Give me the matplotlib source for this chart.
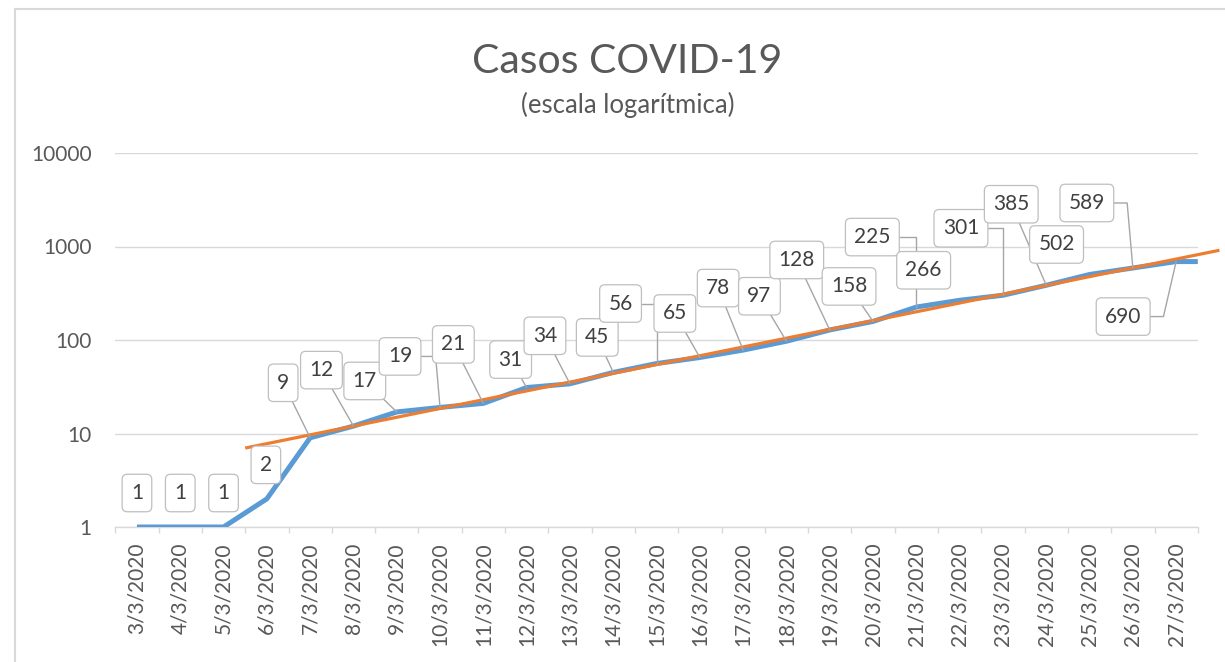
import numpy as np
import matplotlib
matplotlib.use("Agg")
import matplotlib.pyplot as plt
from matplotlib.lines import Line2D

plt.rcParams['font.family'] = ['Lato', 'DejaVu Sans']

# ---------------- data ----------------
dates = ['3/3/2020', '4/3/2020', '5/3/2020', '6/3/2020', '7/3/2020', '8/3/2020',
         '9/3/2020', '10/3/2020', '11/3/2020', '12/3/2020', '13/3/2020', '14/3/2020',
         '15/3/2020', '16/3/2020', '17/3/2020', '18/3/2020', '19/3/2020', '20/3/2020',
         '21/3/2020', '22/3/2020', '23/3/2020', '24/3/2020', '25/3/2020', '26/3/2020',
         '27/3/2020']
cases = [1, 1, 1, 2, 9, 12, 17, 19, 21, 31, 34, 45, 56, 65, 78, 97, 128, 158,
         225, 266, 301, 385, 502, 589, 690]
y_ticks = [1, 10, 100, 1000, 10000]
y_tick_labels = ['1', '10', '100', '1000', '10000']

# label box offsets (pixels from the data point) and leader style
label_dx = [0, 0, 0, -1, -27, -32, -32, -40, -30, -16, -25, -16, -36, -25, -25,
            -27, -33, -24, -44, -36, -42, -35, -33, -46, -53]
label_dy = [34, 34, 34, 34, 55, 56, 31, 51, 59, 28, 48, 35, 60, 44, 62,
            45, 70, 35, 70, 30, 67, 81, 30, 65, -55]
# None = no leader, 's' = straight, number = elbow with that end angle
leader = [None, None, None, None, 's', 's', 's', 95, 's', 's', 's', 's', 90, 's', 's',
          's', 's', 's', 90, None, 90, 's', None, 95, 77]

# ---------------- figure ----------------
W, H = 1225, 662
fig = plt.figure(figsize=(W / 100, H / 100), dpi=100)
ax = fig.add_axes([115.3 / W, 1 - 527 / H, (1197.8 - 115.3) / W, (527 - 153) / H])

x = np.arange(len(cases))
xmax = len(cases) - 0.5
# the series line runs on flat to the edge of the plot area
ax.plot(np.append(x, xmax), np.append(cases, cases[-1]), color='#5B9BD5', lw=3.6,
        solid_joinstyle='round', solid_capstyle='butt', zorder=3)

# exponential trendline (least squares on log values, from 7/3 on)
coef = np.polyfit(x[4:], np.log10(cases[4:]), 1)
xt = np.array([2.5, 25.0])
ax.plot(xt, 10 ** np.polyval(coef, xt), color='#ED7D31', lw=2.3,
        solid_capstyle='butt', clip_on=False, zorder=4)

ax.set_yscale('log')
ax.set_ylim(1, 10000)
ax.set_xlim(-0.5, xmax)
ax.set_yticks(y_ticks)
ax.set_yticklabels(y_tick_labels)
ax.yaxis.set_minor_locator(matplotlib.ticker.NullLocator())
ax.set_xticks(x)
ax.set_xticklabels(dates, rotation=90, va='top', ha='center')
ax.set_xticks(np.arange(-0.5, len(cases), 1), minor=True)

ax.grid(axis='y', which='major', color='#d9d9d9', lw=1.0)
ax.set_axisbelow(True)
for s in ['top', 'right', 'left']:
    ax.spines[s].set_visible(False)
ax.spines['bottom'].set_color('#d9d9d9')
ax.spines['bottom'].set_linewidth(1.0)

ax.tick_params(axis='y', length=0, pad=17, labelsize=15, labelcolor='#595959')
ax.tick_params(axis='x', which='major', length=0, pad=11, labelsize=15,
               labelcolor='#595959')
ax.tick_params(axis='x', which='minor', length=4.5, width=1.0, color='#d9d9d9')

# data labels
for i, v in enumerate(cases):
    kw = {}
    if leader[i] is not None:
        if leader[i] == 's':
            cs = 'arc3,rad=0'
        else:
            cs = 'angle,angleA=0,angleB=%s,rad=0' % leader[i]
        kw['arrowprops'] = dict(arrowstyle='-', color='#a6a6a6', lw=1.0,
                                shrinkA=0, shrinkB=0, connectionstyle=cs)
    ax.annotate(str(v), xy=(i, v), xytext=(label_dx[i], label_dy[i]),
                textcoords='offset pixels', ha='center', va='center',
                fontsize=15, color='#404040', zorder=6, annotation_clip=False,
                bbox=dict(boxstyle='round,pad=0.42,rounding_size=0.25',
                          fc='white', ec='#bfbfbf', lw=0.9),
                **kw)

# titles
fig.text(627.5 / W, 1 - 73 / H, 'Casos COVID-19', ha='center', va='baseline',
         fontsize=29.5, color='#595959')
fig.text(627.5 / W, 1 - 113 / H, '(escala logarítmica)', ha='center',
         va='baseline', fontsize=18.5, color='#595959')

# chart area border
fig.add_artist(Line2D([15 / W, 15 / W], [0, 1 - 9 / H], color='#d9d9d9', lw=1.5,
                      transform=fig.transFigure))
fig.add_artist(Line2D([15 / W, 1], [1 - 9 / H, 1 - 9 / H], color='#d9d9d9', lw=1.5,
                      transform=fig.transFigure))

fig.savefig('out.png', dpi=100, facecolor='white')
